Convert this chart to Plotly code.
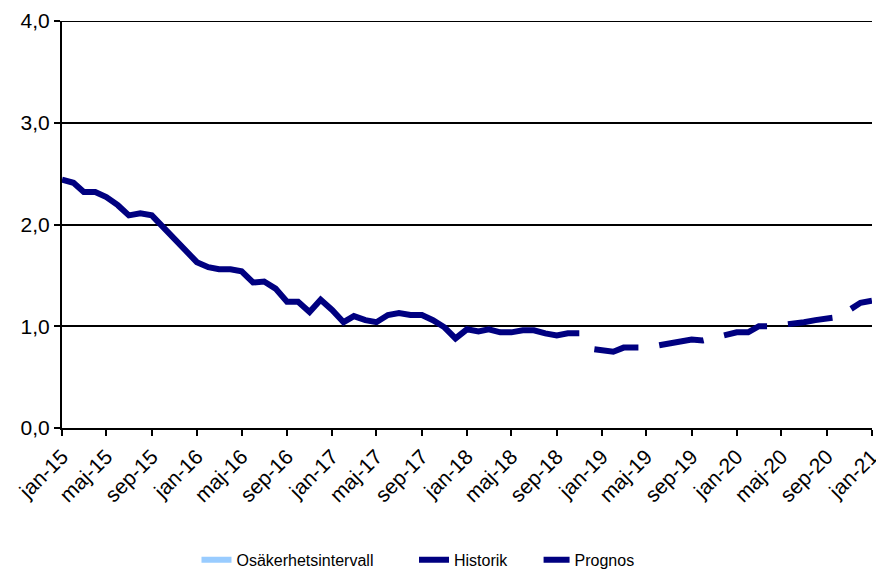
import plotly.graph_objects as go
import pandas as pd

# Historic series: jan-15 .. nov-18
hist_start = "2015-01-01"
hist_values = [2.44, 2.41, 2.32, 2.32, 2.27, 2.19, 2.09, 2.11, 2.09, 1.98, 1.87, 1.75,
               1.63, 1.58, 1.56, 1.56, 1.54, 1.43, 1.44, 1.37, 1.24, 1.24, 1.14, 1.26,
               1.16, 1.04, 1.10, 1.06, 1.04, 1.11, 1.13, 1.11, 1.11, 1.06, 0.99, 0.88,
               0.97, 0.95, 0.97, 0.94, 0.94, 0.96, 0.96, 0.93, 0.91, 0.93, 0.93]

# Forecast series: dec-18 .. jan-21
prog_start = "2018-12-01"
prog_values = [0.78, 0.77, 0.75, 0.79, 0.79, 0.79, 0.81, 0.83, 0.86, 0.87, 0.86, 0.89,
               0.92, 0.94, 0.94, 1.00, 1.00, 1.01, 1.03, 1.04, 1.06, 1.07, 1.09, 1.16,
               1.23, 1.25]

tick_dates = [d.strftime("%Y-%m-%d") for d in pd.date_range("2015-01-01", "2021-01-01", freq="4MS")]
month_names = ["jan", "feb", "mar", "apr", "maj", "jun", "jul", "aug", "sep", "okt", "nov", "dec"]
tick_labels = [f"{month_names[int(d[5:7]) - 1]}-{d[2:4]}" for d in tick_dates]

series_names = ["Osäkerhetsintervall", "Historik", "Prognos"]

hist_x = pd.date_range(hist_start, periods=len(hist_values), freq="MS")
prog_x = pd.date_range(prog_start, periods=len(prog_values), freq="MS")

NBSP = "\u00a0"
NAVY = "#000080"
fig = go.Figure()
fig.add_trace(go.Scatter(x=[None], y=[None], mode="lines", name=series_names[0] + NBSP * 8,
                         line=dict(color="#99CCFF", width=6)))
fig.add_trace(go.Scatter(x=hist_x, y=hist_values, mode="lines", name=series_names[1] + NBSP * 5,
                         line=dict(color=NAVY, width=6)))
fig.add_trace(go.Scatter(x=prog_x, y=prog_values, mode="lines", name=series_names[2],
                         line=dict(color=NAVY, width=6, dash="0px,4px,45px,17px")))

fig.add_shape(type="line", xref="paper", yref="y", x0=0, x1=1, y0=4, y1=4,
              line=dict(color="black", width=2), layer="below")

fig.update_layout(
    width=876, height=569,
    margin=dict(l=62, r=4, t=21, b=141, autoexpand=False),
    paper_bgcolor="white", plot_bgcolor="white",
    font=dict(family="Liberation Sans, Arial, sans-serif", size=21, color="black"),
    separators=", ",
    showlegend=True,
    legend=dict(orientation="h", x=0.4395, xanchor="center", y=-0.324, yanchor="middle",
                font=dict(size=16), traceorder="normal"),
)
fig.update_xaxes(
    type="date", range=["2015-01-01", "2021-01-01 04:00"], automargin=False,
    tickvals=tick_dates, ticktext=tick_labels, tickangle=-45, ticklabeloverflow="allow",
    showgrid=False, showline=True, linecolor="black", linewidth=2,
    ticks="outside", ticklen=6, tickwidth=2, tickcolor="black",
    tickfont=dict(size=21), zeroline=False,
)
fig.update_yaxes(
    range=[0, 4], tickvals=[0, 1, 2, 3, 4], tickformat=".1f", automargin=False,
    showgrid=True, gridcolor="black", gridwidth=2,
    showline=True, linecolor="black", linewidth=2,
    ticks="outside", ticklen=6, tickwidth=2, tickcolor="black",
    tickfont=dict(size=21), zeroline=False,
)
fig.write_html(
    "out.html",
    config={"displayModeBar": False},
    post_script="document.body.style.margin='0';document.body.style.overflow='hidden';",
)
